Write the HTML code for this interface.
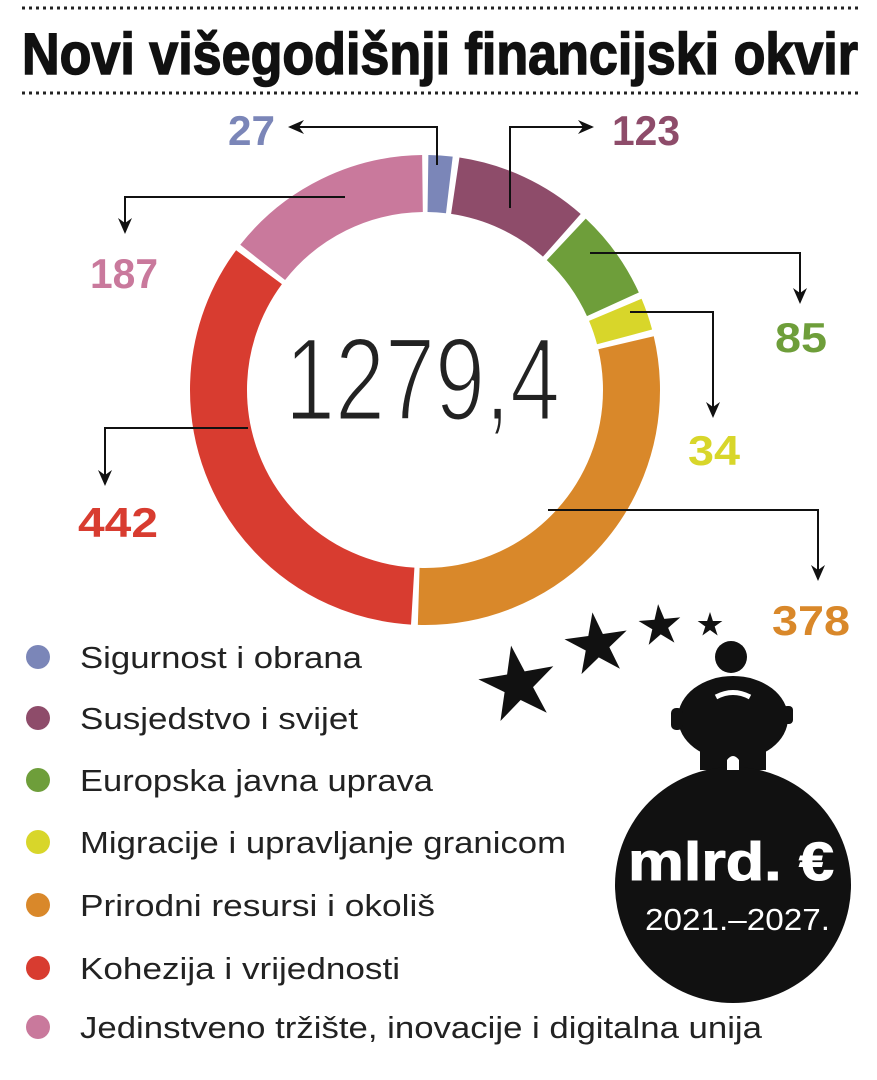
<!DOCTYPE html>
<html><head><meta charset="utf-8"><style>
html,body{margin:0;padding:0;background:#fff}
svg{display:block}
text{font-family:"Liberation Sans",sans-serif}
</style></head><body>
<svg width="877" height="1080" viewBox="0 0 877 1080">
<defs>
<polygon id="st" points="0,-1 0.223,-0.307 0.951,-0.309 0.361,0.117 0.588,0.809 0,0.38 -0.588,0.809 -0.361,0.117 -0.951,-0.309 -0.223,-0.307"/>
<marker id="ah" markerWidth="16" markerHeight="14" refX="14" refY="7" orient="auto" markerUnits="userSpaceOnUse"><path d="M0,0 L16,7 L0,14 L5,7 Z" fill="#111"/></marker>
</defs>
<line x1="22" y1="8" x2="858" y2="8" stroke="#222" stroke-width="3" stroke-dasharray="3 4"/>
<line x1="22" y1="93" x2="858" y2="93" stroke="#222" stroke-width="3" stroke-dasharray="3 4"/>
<text x="22" y="74" font-size="58" font-weight="bold" fill="#111" stroke="#111" stroke-width="1.5" textLength="836" lengthAdjust="spacingAndGlyphs" style="font-family:'Liberation Sans Narrow','Liberation Sans',sans-serif">Novi višegodišnji financijski okvir</text>

<g transform="rotate(-90 425 390)" fill="none" stroke-width="57">
<circle cx="425" cy="390" r="206.5" stroke="#7b86b8" stroke-dasharray="21.45 2000" stroke-dashoffset="-3"/>
<circle cx="425" cy="390" r="206.5" stroke="#8e4c6a" stroke-dasharray="119.07 2000" stroke-dashoffset="-30.45"/>
<circle cx="425" cy="390" r="206.5" stroke="#6e9e3a" stroke-dasharray="80.43 2000" stroke-dashoffset="-155.52"/>
<circle cx="425" cy="390" r="206.5" stroke="#d8d62a" stroke-dasharray="28.57 2000" stroke-dashoffset="-241.95"/>
<circle cx="425" cy="390" r="206.5" stroke="#d9882a" stroke-dasharray="378.37 2000" stroke-dashoffset="-276.52"/>
<circle cx="425" cy="390" r="206.5" stroke="#d83c30" stroke-dasharray="443.45 2000" stroke-dashoffset="-660.89"/>
<circle cx="425" cy="390" r="206.5" stroke="#c9799c" stroke-dasharray="184.15 2000" stroke-dashoffset="-1110.34"/>
</g>
<text x="285" y="420" font-size="118" fill="#222" stroke="#fff" stroke-width="3" textLength="275" lengthAdjust="spacingAndGlyphs">1279,4</text>

<g fill="none" stroke="#111" stroke-width="2" marker-end="url(#ah)">
<polyline points="437,165 437,127 290,127"/>
<polyline points="510,208 510,127 592,127"/>
<polyline points="345,197 125,197 125,232"/>
<polyline points="590,253 800,253 800,302"/>
<polyline points="630,312 713,312 713,416"/>
<polyline points="248,428 105,428 105,484"/>
<polyline points="548,510 818,510 818,579"/>
</g>
<g font-weight="bold" font-size="42">
<text x="228" y="145" fill="#7b86b8" textLength="47" lengthAdjust="spacingAndGlyphs">27</text>
<text x="612" y="145" fill="#8e4c6a" textLength="68" lengthAdjust="spacingAndGlyphs">123</text>
<text x="90" y="288" fill="#c9799c" textLength="68" lengthAdjust="spacingAndGlyphs">187</text>
<text x="775" y="352" fill="#6e9e3a" textLength="52" lengthAdjust="spacingAndGlyphs">85</text>
<text x="688" y="465" fill="#d8d62a" textLength="52" lengthAdjust="spacingAndGlyphs">34</text>
<text x="78" y="537" fill="#d83c30" textLength="80" lengthAdjust="spacingAndGlyphs">442</text>
<text x="772" y="635" fill="#d9882a" textLength="78" lengthAdjust="spacingAndGlyphs">378</text>
</g>

<g font-size="31" fill="#222">
<circle cx="38" cy="657" r="12" fill="#7b86b8"/><text x="80" y="668" textLength="282" lengthAdjust="spacingAndGlyphs">Sigurnost i obrana</text>
<circle cx="38" cy="718" r="12" fill="#8e4c6a"/><text x="80" y="729" textLength="278" lengthAdjust="spacingAndGlyphs">Susjedstvo i svijet</text>
<circle cx="38" cy="780" r="12" fill="#6e9e3a"/><text x="80" y="791" textLength="353" lengthAdjust="spacingAndGlyphs">Europska javna uprava</text>
<circle cx="38" cy="842" r="12" fill="#d8d62a"/><text x="80" y="853" textLength="486" lengthAdjust="spacingAndGlyphs">Migracije i upravljanje granicom</text>
<circle cx="38" cy="905" r="12" fill="#d9882a"/><text x="80" y="916" textLength="355" lengthAdjust="spacingAndGlyphs">Prirodni resursi i okoliš</text>
<circle cx="38" cy="968" r="12" fill="#d83c30"/><text x="80" y="979" textLength="320" lengthAdjust="spacingAndGlyphs">Kohezija i vrijednosti</text>
<circle cx="38" cy="1027" r="12" fill="#c9799c"/><text x="80" y="1038" textLength="682" lengthAdjust="spacingAndGlyphs">Jedinstveno tržište, inovacije i digitalna unija</text>
</g>

<g fill="#111">
<use href="#st" transform="translate(518,685) rotate(-10) scale(40)"/>
<use href="#st" transform="translate(597,645) rotate(-8) scale(33)"/>
<use href="#st" transform="translate(660,626) rotate(-5) scale(22)"/>
<use href="#st" transform="translate(710,625) scale(13)"/>
<circle cx="731" cy="657" r="16"/>
<ellipse cx="733" cy="718" rx="55" ry="42"/>
<rect x="671" y="708" width="12" height="22" rx="5"/>
<rect x="783" y="706" width="10" height="18" rx="4"/>
<rect x="700" y="740" width="66" height="30"/>
<circle cx="733" cy="885" r="118"/>
</g>
<path d="M716,697 Q733,688 750,697" stroke="#fff" stroke-width="5" fill="none"/>
<path d="M727,770 L727,760 Q733,752 739,760 L739,770 Z" fill="#fff"/>
<text x="628" y="880" font-size="54" font-weight="bold" fill="#fff" stroke="#fff" stroke-width="1" textLength="206" lengthAdjust="spacingAndGlyphs" style="font-family:'Liberation Sans Narrow','Liberation Sans',sans-serif">mlrd. €</text>
<text x="645" y="930" font-size="31" fill="#fff" textLength="185" lengthAdjust="spacingAndGlyphs">2021.–2027.</text>
</svg>
</body></html>
